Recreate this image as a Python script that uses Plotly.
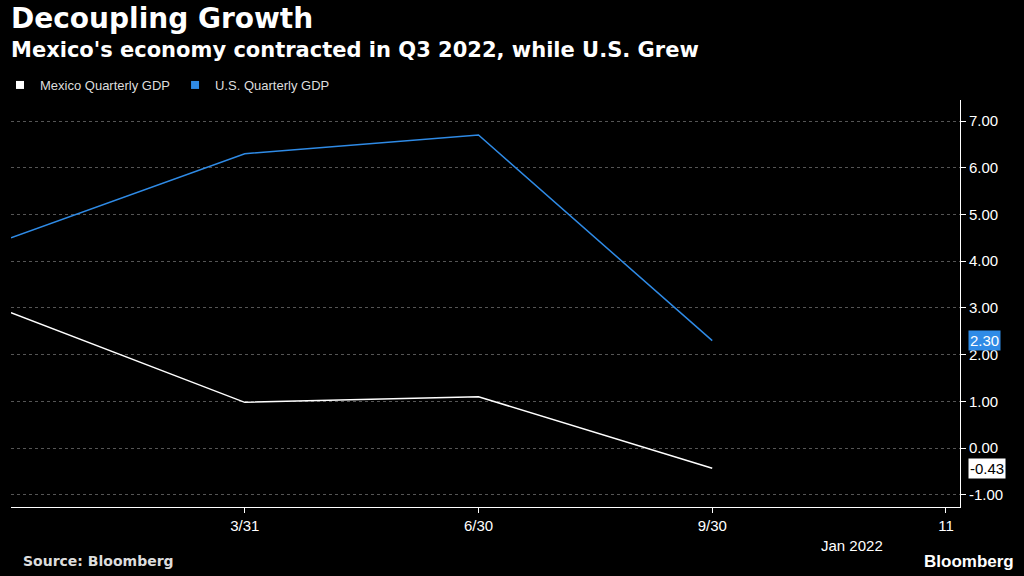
import plotly.graph_objects as go

x_idx = [0, 1, 2, 3]
tick_vals = [1, 2, 3, 4]
tick_text = ["3/31", "6/30", "9/30", "11"]
mexico = [2.9, 0.98, 1.1, -0.43]
us = [4.5, 6.3, 6.7, 2.3]
y_ticks = [-1, 0, 1, 2, 3, 4, 5, 6, 7]

fig = go.Figure()
fig.add_trace(go.Scatter(x=x_idx, y=mexico, mode="lines", showlegend=False,
                         line=dict(color="#ffffff", width=1.5)))
fig.add_trace(go.Scatter(x=x_idx, y=us, mode="lines", showlegend=False,
                         line=dict(color="#2f8be6", width=1.5)))
fig.add_trace(go.Scatter(x=[None], y=[None], mode="markers", name="Mexico Quarterly GDP",
                         marker=dict(symbol="square", size=8, color="#ffffff")))
fig.add_trace(go.Scatter(x=[None], y=[None], mode="markers", name="U.S. Quarterly GDP",
                         marker=dict(symbol="square", size=8, color="#2f8be6")))

fig.update_layout(
    width=1024, height=576, paper_bgcolor="black", plot_bgcolor="black",
    margin=dict(l=0, r=64, t=100, b=69),
    font=dict(family="Liberation Sans, Arial", color="white", size=13),
    showlegend=True,
    legend=dict(orientation="h", x=-0.012, y=1.0, xanchor="left", yanchor="bottom",
                font=dict(size=13, color="#dddddd"), itemwidth=30, bgcolor="rgba(0,0,0,0)"),
    xaxis=dict(range=[0, 4.06], tickvals=tick_vals, ticktext=tick_text, showgrid=False,
               ticks="outside", ticklen=5, tickcolor="white", showline=True, linecolor="white",
               tickfont=dict(size=15, color="white"), zeroline=False),
    yaxis=dict(range=[-1.26, 7.45], side="right", tickvals=y_ticks,
               ticktext=[f"{v:.2f}" for v in y_ticks], showgrid=True, gridcolor="#555555",
               griddash="dot", ticks="outside", ticklen=5, tickcolor="white", showline=True,
               linecolor="white", tickfont=dict(size=15, color="white"), zeroline=False),
    annotations=[
        dict(text="<b>Decoupling Growth</b>", x=0, y=1, xref="paper", yref="paper",
             xanchor="left", yanchor="top", showarrow=False,
             font=dict(size=28, color="white", family="DejaVu Sans"), yshift=100, xshift=-2),
        dict(text="<b>Mexico's economy contracted in Q3 2022, while U.S. Grew</b>", x=0, y=1,
             xref="paper", yref="paper", xanchor="left", yanchor="top", showarrow=False,
             font=dict(size=21, color="white", family="DejaVu Sans"), yshift=64, xshift=-2),
        dict(text="Jan 2022", x=3.6, y=0, xref="x", yref="paper", yanchor="top",
             showarrow=False, yshift=-28, font=dict(size=15, color="white")),
        dict(text="2.30", x=1, y=us[-1], xref="paper", yref="y", xanchor="left",
             showarrow=False, bgcolor="#2f8be6", font=dict(size=15, color="white"), xshift=8),
        dict(text="-0.43", x=1, y=mexico[-1], xref="paper", yref="y", xanchor="left",
             showarrow=False, bgcolor="white", font=dict(size=15, color="black"), xshift=8),
        dict(text="<b>Source: Bloomberg</b>", x=0, y=0, xref="paper", yref="paper",
             xanchor="left", yanchor="bottom", showarrow=False, yshift=-64,
             font=dict(size=14, color="#dddddd", family="DejaVu Sans"), xshift=10),
        dict(text="<b>Bloomberg</b>", x=1, y=0, xref="paper", yref="paper",
             xanchor="right", yanchor="bottom", showarrow=False, yshift=-66, xshift=56,
             font=dict(size=17, color="white")),
    ],
)
fig.write_html("out.html", config={"displayModeBar": False},
               post_script="document.body.style.margin='0';document.body.style.background='black';")
